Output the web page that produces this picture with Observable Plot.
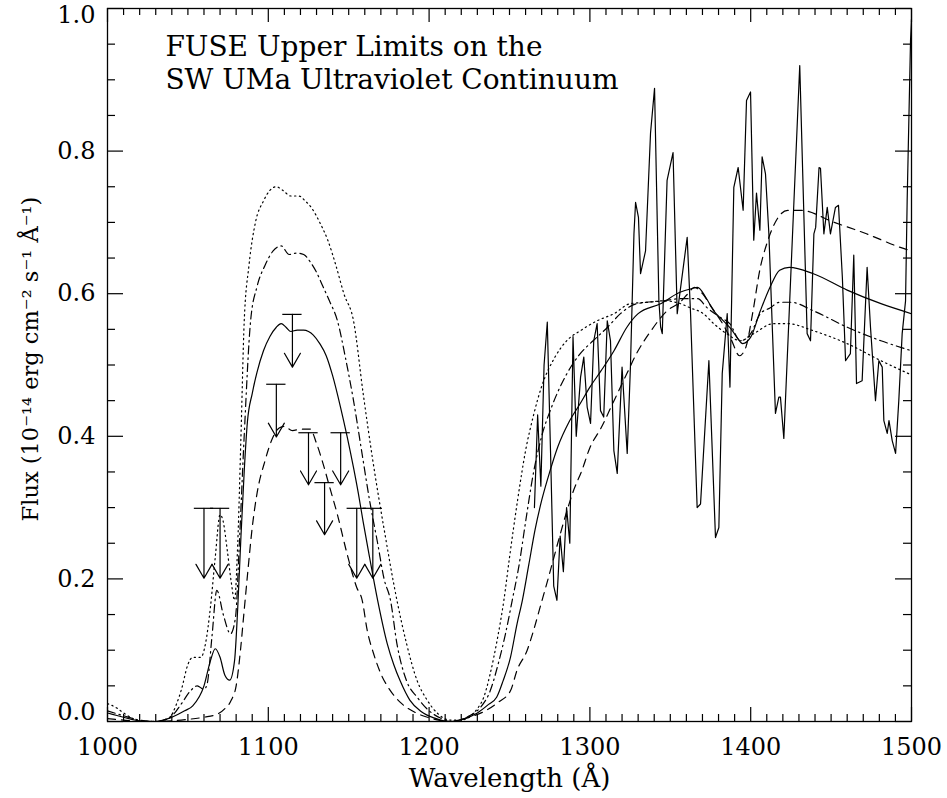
<!DOCTYPE html>
<html><head><meta charset="utf-8">
<script src="https://cdn.jsdelivr.net/npm/d3@7"></script>
<script src="https://cdn.jsdelivr.net/npm/@observablehq/plot@0.6"></script>
<style>html,body{margin:0;padding:0;background:#fff}</style>
</head><body><div id="chart"></div>
<script>
// ---- Model curves (wavelength in Å, flux in 1e-14 erg cm^-2 s^-1 Å^-1) ----
const solidWave = [1000,1010,1020,1030,1040,1048,1053,1060,1064,1067,1070,1073,1076,1079,1081,1083,1085,1087,1090,1093,1097,1101,1105,1108,1111,1114,1118,1122,1125,1128,1132,1136,1140,1145,1149,1153,1156,1159,1163,1168,1174,1178,1182,1188,1195,1203,1213,1222,1230,1237,1242,1246,1250.6,1254.7,1258,1262,1266,1270,1275,1280,1287,1294,1300,1307,1315,1323,1330,1344,1356,1363,1367,1372,1377,1383,1388,1392,1395,1400,1406,1412,1418,1424,1439,1460,1481,1500];
const solidFlux = [0.012,0.006,0.001,0.0,0.006,0.015,0.022,0.05,0.085,0.102,0.09,0.065,0.058,0.085,0.16,0.26,0.35,0.42,0.46,0.49,0.52,0.54,0.553,0.558,0.553,0.547,0.549,0.549,0.547,0.542,0.53,0.513,0.485,0.44,0.4,0.356,0.32,0.28,0.23,0.17,0.109,0.08,0.057,0.03,0.014,0.005,0.0,0.004,0.012,0.024,0.034,0.057,0.09,0.137,0.17,0.22,0.27,0.31,0.35,0.385,0.42,0.446,0.469,0.492,0.52,0.553,0.572,0.586,0.602,0.607,0.609,0.595,0.576,0.562,0.55,0.537,0.53,0.539,0.576,0.609,0.633,0.637,0.628,0.605,0.586,0.572];

const dashedWave = [1000,1010,1020,1030,1040,1050,1060,1068,1073,1077,1080,1082.7,1084.6,1086,1087.5,1090,1093,1098,1102,1107,1110,1115,1120,1126,1130,1134,1138,1143,1149,1155,1158.4,1161.5,1165.5,1170,1176,1183,1192,1202,1213,1225,1235,1243,1250.6,1254.7,1261,1265,1269,1274,1280,1285,1290,1295,1300,1307,1315,1323,1329,1338,1348,1356,1361,1365,1370,1376,1382,1388,1393,1397,1401,1406,1410,1416,1423,1431,1452,1472,1493,1500];
const dashedFlux = [0.004,0.002,0.0,0.0,0.001,0.003,0.006,0.01,0.018,0.03,0.05,0.1,0.146,0.18,0.216,0.272,0.32,0.366,0.394,0.412,0.414,0.408,0.41,0.41,0.39,0.362,0.33,0.29,0.235,0.188,0.17,0.128,0.095,0.067,0.043,0.025,0.012,0.004,0.0,0.006,0.015,0.027,0.043,0.072,0.1,0.128,0.16,0.2,0.25,0.29,0.325,0.352,0.384,0.412,0.45,0.488,0.516,0.548,0.576,0.588,0.6,0.609,0.6,0.58,0.56,0.535,0.513,0.525,0.57,0.637,0.67,0.703,0.717,0.717,0.70,0.684,0.665,0.66];

const dashDotWave = [1000,1010,1020,1030,1040,1046,1051.6,1055.8,1060,1062,1065,1068,1072,1076.5,1079.6,1082,1085,1089,1093,1098,1103,1108,1113,1118,1122,1126,1130,1134,1138,1143,1148,1153,1158,1163,1168,1172,1176,1180,1186,1192.6,1200,1207,1215,1225,1232,1238,1243,1247.5,1251.7,1256,1260,1265,1270,1276,1285,1294,1302,1311,1319,1329,1346,1356,1367,1373,1381,1387,1393.6,1400,1406,1412,1418,1425,1439,1460,1481,1500];
const dashDotFlux = [0.015,0.008,0.002,0.0,0.008,0.025,0.043,0.05,0.045,0.053,0.12,0.184,0.15,0.123,0.146,0.25,0.4,0.562,0.61,0.64,0.66,0.667,0.655,0.657,0.655,0.645,0.63,0.61,0.59,0.562,0.51,0.45,0.38,0.31,0.25,0.2,0.17,0.109,0.057,0.034,0.015,0.005,0.0,0.008,0.02,0.043,0.081,0.123,0.17,0.22,0.28,0.35,0.4,0.44,0.485,0.516,0.534,0.553,0.572,0.586,0.59,0.593,0.593,0.58,0.567,0.558,0.534,0.544,0.572,0.58,0.588,0.588,0.576,0.553,0.534,0.52];

const dottedWave = [1000,1005,1010,1015,1020,1030,1038,1043,1046,1050,1053,1058,1061,1064,1067,1070,1072,1074.5,1077,1079,1081,1083,1085,1088,1092,1097,1101,1105,1109,1114,1119,1123,1127,1132,1137,1142,1147,1153,1159,1165,1172,1180,1186,1192.6,1198.8,1205,1213,1220,1226,1230,1234,1238,1242.3,1246.5,1250,1255,1260,1265,1270,1278,1286,1294,1304.5,1315,1325,1336,1346,1355,1362.5,1370.6,1377,1385,1393.6,1402,1414,1423,1439,1460,1481,1500];
const dottedFlux = [0.025,0.02,0.012,0.005,0.001,0.0,0.004,0.025,0.045,0.08,0.09,0.09,0.11,0.16,0.23,0.29,0.28,0.24,0.195,0.17,0.25,0.4,0.56,0.64,0.7,0.73,0.745,0.75,0.745,0.737,0.737,0.73,0.72,0.70,0.675,0.64,0.6,0.562,0.46,0.366,0.27,0.17,0.109,0.057,0.03,0.012,0.002,0.002,0.008,0.018,0.034,0.067,0.114,0.17,0.23,0.31,0.38,0.43,0.47,0.51,0.535,0.548,0.562,0.572,0.586,0.588,0.59,0.587,0.58,0.572,0.558,0.544,0.534,0.544,0.558,0.558,0.548,0.53,0.506,0.486];

// ---- Observed spectrum ----
const obsWave = [1265.5,1267.5,1269.5,1271.5,1273.5,1275.5,1277.5,1279.5,1281.5,1283.5,1285.5,1287.5,1289.5,1291.5,1294.2,1296.2,1298.3,1300.4,1302.4,1304.5,1306.6,1308.6,1310.8,1312.8,1314.9,1317,1320,1323.2,1325.2,1327.4,1328.4,1330.2,1331.5,1334.6,1337.7,1340.2,1342.9,1344,1345,1348,1351.7,1354.3,1360.5,1362.6,1366.7,1368.8,1374,1378.1,1380.2,1382.3,1385.4,1387.1,1389.5,1392.2,1395.3,1397.4,1399.9,1401.9,1403.6,1405.7,1407.1,1409.2,1411.3,1415.4,1417.5,1418.5,1420.6,1430.5,1435.1,1437.2,1439.3,1440.4,1442.5,1443.4,1445.5,1447.6,1449.6,1452.7,1454.6,1457,1459,1462,1464.1,1465.8,1469.3,1472.4,1474.5,1477.6,1479.7,1481.8,1482.8,1484.9,1486,1488,1490.1,1492.1,1494.2,1496.3,1497.3,1499.4,1500];
const obsFlux = [0.30,0.43,0.33,0.50,0.56,0.38,0.19,0.17,0.26,0.21,0.30,0.25,0.54,0.40,0.483,0.511,0.441,0.418,0.534,0.558,0.436,0.427,0.562,0.534,0.38,0.348,0.497,0.376,0.497,0.684,0.728,0.707,0.628,0.66,0.825,0.888,0.59,0.553,0.544,0.759,0.798,0.572,0.679,0.572,0.30,0.305,0.506,0.258,0.272,0.488,0.572,0.469,0.749,0.777,0.717,0.871,0.883,0.675,0.741,0.689,0.792,0.768,0.684,0.432,0.455,0.455,0.397,0.92,0.544,0.534,0.684,0.693,0.777,0.776,0.684,0.721,0.684,0.721,0.724,0.623,0.506,0.516,0.654,0.474,0.478,0.637,0.553,0.45,0.506,0.497,0.422,0.404,0.422,0.394,0.376,0.45,0.544,0.59,0.73,0.955,0.985];

// ---- Upper limits ----
const limitWave = [1060,1070,1105,1115,1125,1135,1145,1155,1165];
const limitTop  = [0.299,0.299,0.473,0.571,0.405,0.335,0.405,0.299,0.299];
const limitTip  = [0.201,0.201,0.399,0.497,0.332,0.262,0.332,0.201,0.201];

// ---- Axis ticks / labels ----
const xMajor = [1000,1100,1200,1300,1400,1500];
const xMinor = d3.range(1000,1501,10).filter(v => v % 100 !== 0);
const yMajorInner = [0.2,0.4,0.6,0.8];
const yAll = [0,0.2,0.4,0.6,0.8,1.0];
const yMinor = d3.range(1,20).filter(i => i % 4 !== 0).map(i => +(i*0.05).toFixed(2));
const titleText = "FUSE Upper Limits on the\nSW UMa Ultraviolet Continuum";
const xLabel = "Wavelength (Å)";
const yLabel = "Flux (10⁻¹⁴ erg cm⁻² s⁻¹ Å⁻¹)";

const rows = (w, f) => w.map((x, i) => ({x, y: f[i]}));
const limits = limitWave.map((x, i) => ({x, top: limitTop[i], tip: limitTip[i]}));

const W = 947, H = 798, mt = 8, mr = 36, mb = 77, ml = 107;
const ph = H - mt - mb, pw = W - ml - mr;
const sw = 1.2;

const chart = Plot.plot({
  width: W, height: H,
  marginTop: mt, marginRight: mr, marginBottom: mb, marginLeft: ml,
  style: {fontFamily: "'DejaVu Serif', serif", background: "white", color: "black"},
  x: {domain: [1000, 1500], axis: null},
  y: {domain: [0, 1], axis: null},
  marks: [
    Plot.line(rows(dottedWave, dottedFlux), {x: "x", y: "y", curve: "monotone-x", stroke: "black", strokeWidth: sw, strokeDasharray: "1.3,3.5", clip: true}),
    Plot.line(rows(dashDotWave, dashDotFlux), {x: "x", y: "y", curve: "monotone-x", stroke: "black", strokeWidth: sw, strokeDasharray: "8,4,1.5,4", clip: true}),
    Plot.line(rows(solidWave, solidFlux), {x: "x", y: "y", curve: "monotone-x", stroke: "black", strokeWidth: sw, clip: true}),
    Plot.line(rows(dashedWave, dashedFlux), {x: "x", y: "y", curve: "monotone-x", stroke: "black", strokeWidth: sw, strokeDasharray: "8,6", clip: true}),
    Plot.line(rows(obsWave, obsFlux), {x: "x", y: "y", stroke: "black", strokeWidth: sw, clip: true}),
    // upper limits
    Plot.ruleY(limits, {y: "top", x1: d => d.x - 6, x2: d => d.x + 6, stroke: "black", strokeWidth: sw}),
    Plot.arrow(limits, {x1: "x", y1: "top", x2: "x", y2: "tip", stroke: "black", strokeWidth: sw, headLength: 20, headAngle: 60}),
    // inward ticks on all four sides
    Plot.tickX(xMajor, {x: d => d, insetTop: ph - 14, stroke: "black", strokeWidth: sw}),
    Plot.tickX(xMinor, {x: d => d, insetTop: ph - 7, stroke: "black", strokeWidth: sw}),
    Plot.tickX(xMajor, {x: d => d, insetBottom: ph - 14, stroke: "black", strokeWidth: sw}),
    Plot.tickX(xMinor, {x: d => d, insetBottom: ph - 7, stroke: "black", strokeWidth: sw}),
    Plot.tickY(yAll, {y: d => d, insetRight: pw - 16, stroke: "black", strokeWidth: sw}),
    Plot.tickY(yMinor, {y: d => d, insetRight: pw - 8, stroke: "black", strokeWidth: sw}),
    Plot.tickY(yAll, {y: d => d, insetLeft: pw - 16, stroke: "black", strokeWidth: sw}),
    Plot.tickY(yMinor, {y: d => d, insetLeft: pw - 8, stroke: "black", strokeWidth: sw}),
    Plot.frame({stroke: "black", strokeWidth: 1.3}),
    // tick labels
    Plot.axisX({ticks: xMajor, tickSize: 0, tickPadding: 16, fontSize: 24, tickFormat: d => String(d), label: null}),
    Plot.axisY({ticks: yMajorInner, tickSize: 0, tickPadding: 12, fontSize: 24, tickFormat: d3.format(".1f"), label: null}),
    Plot.axisY({ticks: [0], tickSize: 0, tickPadding: 12, fontSize: 24, tickFormat: d3.format(".1f"), label: null, dy: -9}),
    Plot.axisY({ticks: [1], tickSize: 0, tickPadding: 12, fontSize: 24, tickFormat: d3.format(".1f"), label: null, dy: 7}),
    // axis titles
    Plot.text([xLabel], {frameAnchor: "bottom", dy: 57, fontSize: 26, lineAnchor: "middle"}),
    Plot.text([yLabel], {frameAnchor: "left", textAnchor: "middle", dx: -77, dy: -6, rotate: -90, fontSize: 22.5, lineAnchor: "middle"}),
    // title
    Plot.text([titleText], {x: 1036, y: 0.925, textAnchor: "start", lineAnchor: "middle", lineHeight: 1.18, fontSize: 28})
  ]
});
document.getElementById("chart").appendChild(chart);
</script>
</body></html>
